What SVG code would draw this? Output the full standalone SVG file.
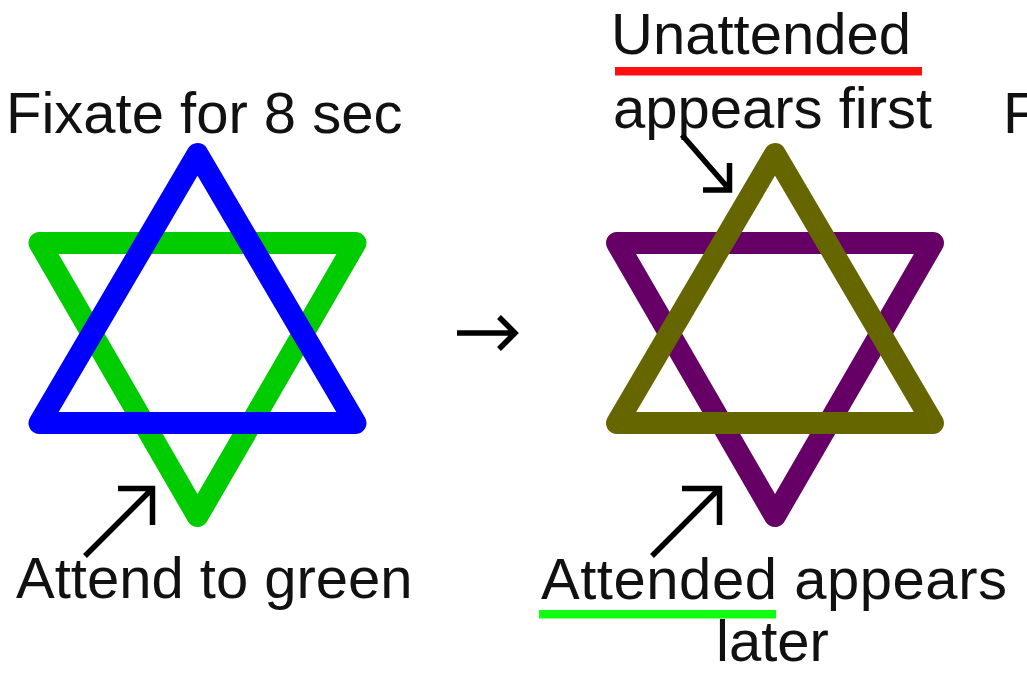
<svg xmlns="http://www.w3.org/2000/svg" width="1027" height="674" viewBox="0 0 1027 674">
<style>
.lbl{font-family:"Liberation Sans",Arial,sans-serif;font-size:58px;fill:#111}
.tri{fill:none;stroke-width:22;stroke-linejoin:round}
.arr{fill:none;stroke:#000;stroke-width:5.5;stroke-linejoin:miter;stroke-linecap:butt}
</style>
<rect width="1027" height="674" fill="#fff"/>
<g id="star-left">
<polygon class="tri" stroke="#00cc00" points="39.5,243 355.5,243 197.5,516"/>
<polygon class="tri" stroke="#0000ff" points="39.5,423 355.5,423 197.5,154"/>
</g>
<g id="star-right">
<polygon class="tri" stroke="#660066" points="617,243 933,243 775,516"/>
<polygon class="tri" stroke="#666600" points="617,423 933,423 775,154"/>
</g>
<g id="label-fixate"><text class="lbl" x="6" y="133">Fixate for 8 sec</text></g>
<g id="label-attend"><text class="lbl" x="16" y="598">Attend to green</text></g>
<g id="label-unattended">
<text class="lbl" x="611" y="54">Unattended</text>
<rect x="615" y="67" width="307" height="8.5" fill="#ff1010"/>
<text class="lbl" x="613" y="128">appears first</text>
</g>
<g id="label-attended">
<text class="lbl" x="541" y="599" textLength="466" lengthAdjust="spacing">Attended appears</text>
<rect x="539" y="610" width="237" height="8.5" fill="#11ff11"/>
<text class="lbl" x="716" y="661">later</text>
</g>
<g id="label-right"><text class="lbl" x="1003" y="133">F</text></g>
<g id="connectors">
<path class="arr" d="M85,556 L152,489 M118,488.5 H152.5 V525"/>
<path class="arr" d="M652,556 L719,489 M682,488.5 H719.5 V525"/>
<path class="arr" d="M682,135 L729,189 M703,190 H729.5 V163"/>
<path class="arr" stroke-width="6.5" d="M457,333 H514 M499,317 L515,333 L499,349"/>
</g>
</svg>
